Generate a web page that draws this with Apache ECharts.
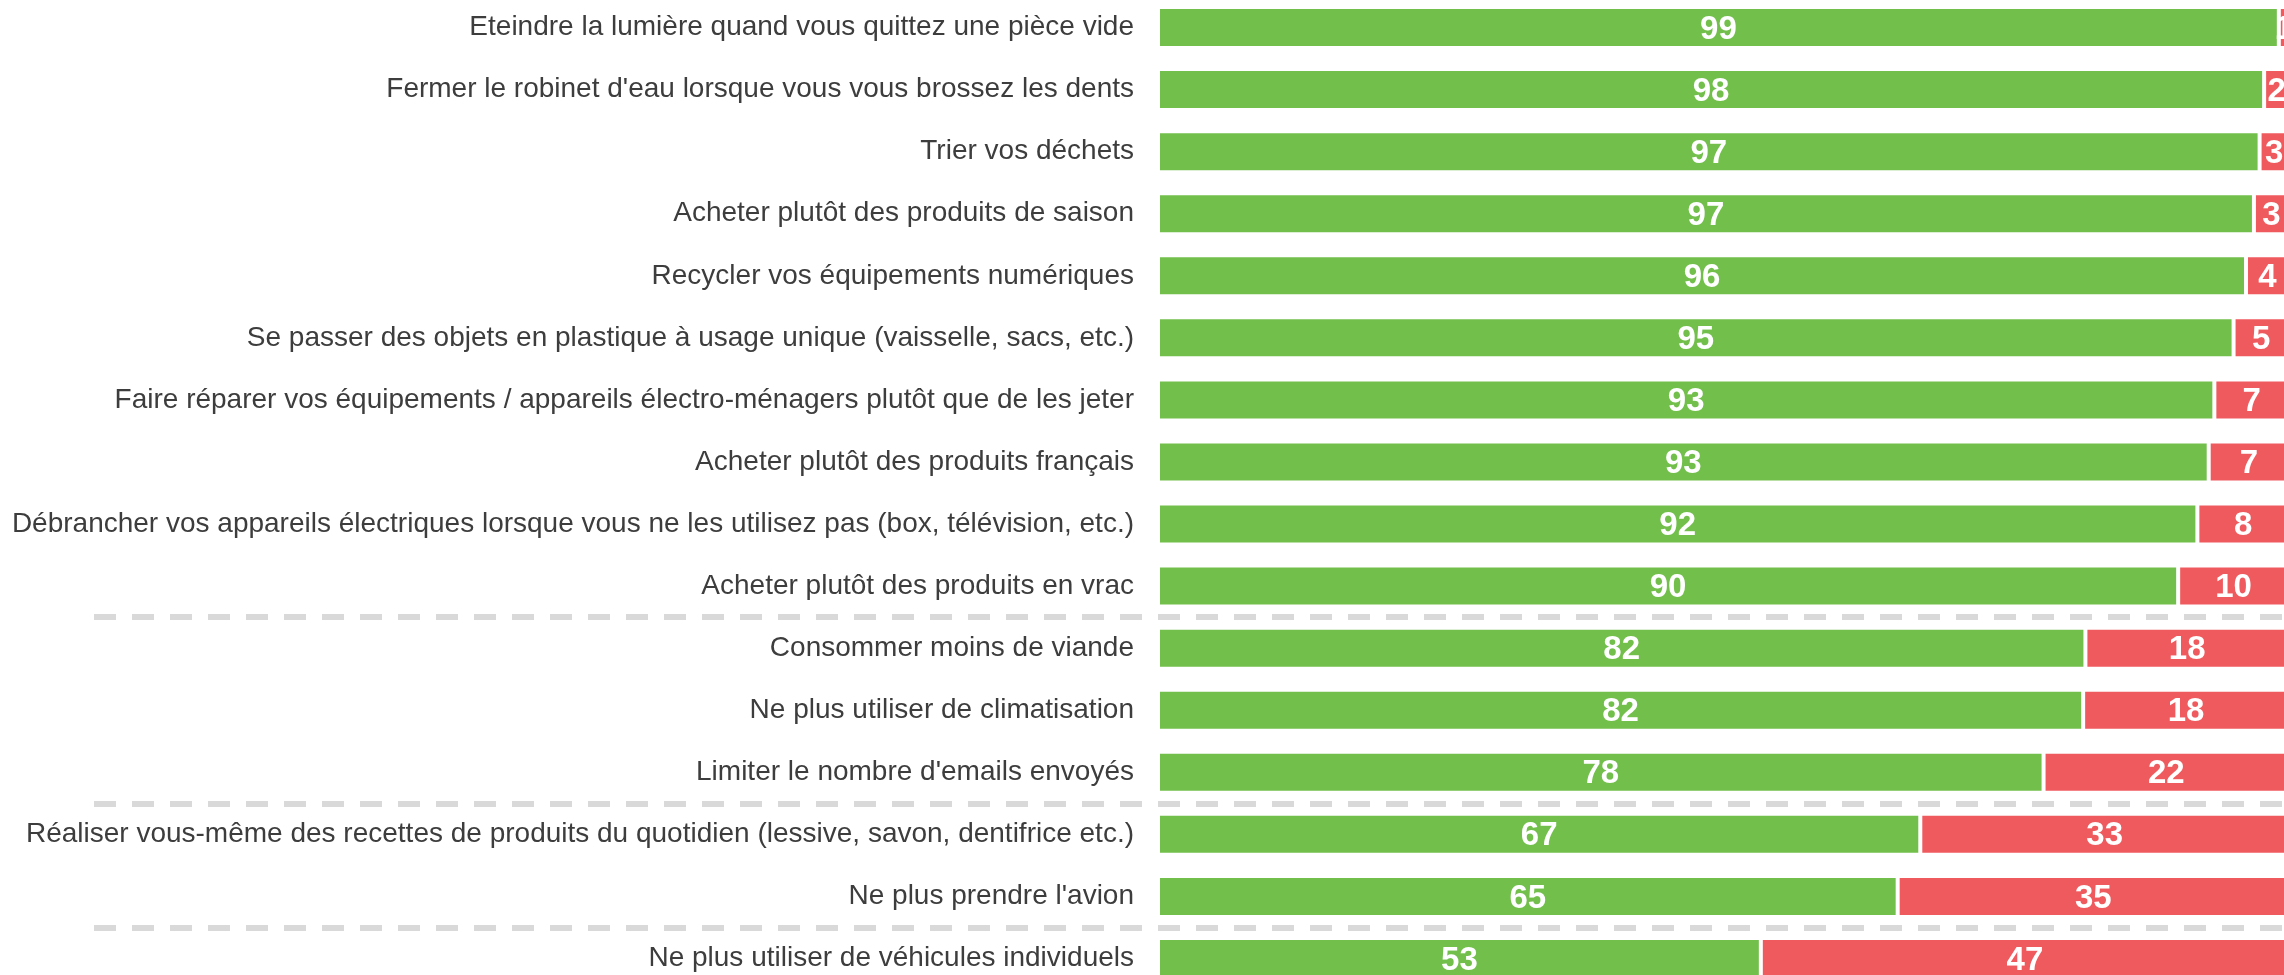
<!DOCTYPE html>
<html>
<head>
<meta charset="utf-8">
<script src="https://cdn.jsdelivr.net/npm/echarts@6/dist/echarts.min.js"></script>
<style>
  html, body { margin: 0; padding: 0; background: #fff; }
  #chart { width: 2284px; height: 975px; }
</style>
</head>
<body>
<div id="chart"></div>
<script>
// actions, top to bottom
var categories = [
  'Eteindre la lumière quand vous quittez une pièce vide',
  "Fermer le robinet d'eau lorsque vous vous brossez les dents",
  'Trier vos déchets',
  'Acheter plutôt des produits de saison',
  'Recycler vos équipements numériques',
  'Se passer des objets en plastique à usage unique (vaisselle, sacs, etc.)',
  'Faire réparer vos équipements / appareils électro-ménagers plutôt que de les jeter',
  'Acheter plutôt des produits français',
  'Débrancher vos appareils électriques lorsque vous ne les utilisez pas (box, télévision, etc.)',
  'Acheter plutôt des produits en vrac',
  'Consommer moins de viande',
  'Ne plus utiliser de climatisation',
  "Limiter le nombre d'emails envoyés",
  'Réaliser vous-même des recettes de produits du quotidien (lessive, savon, dentifrice etc.)',
  "Ne plus prendre l'avion",
  'Ne plus utiliser de véhicules individuels'
]
var yesValues = [99.1, 97.8, 97.4, 96.9, 96.2, 95.1, 93.4, 92.9, 91.9, 90.2, 82.0, 81.8, 78.3, 67.4, 65.4, 53.3]
var noValues = [0.9, 2.2, 2.6, 3.1, 3.8, 4.9, 6.6, 7.1, 8.1, 9.8, 18.0, 18.2, 21.7, 32.6, 34.6, 46.7]
// group separators, counted in rows from the top
var separators = [10, 13, 15]

var FONT = '"Liberation Sans", Arial, sans-serif'

var chart = echarts.init(document.getElementById('chart'))

var barLabel = {
  show: true,
  position: 'inside',
  offset: [0, 2],
  color: '#fff',
  fontFamily: FONT,
  fontWeight: 'bold',
  fontSize: 33,
  formatter: function (p) {
    return Math.round(p.value)
  }
}

chart.setOption({
  animation: false,
  grid: [
    { left: 1158, top: -3.5, width: 1131, height: 993, outerBoundsMode: 'none' },
    { left: 94, top: -3.5, width: 2195, height: 993, outerBoundsMode: 'none' }
  ],
  xAxis: [
    { type: 'value', gridIndex: 0, min: 0, max: 100, show: false },
    { type: 'value', gridIndex: 1, min: 0, max: 1, show: false }
  ],
  yAxis: [
    {
      type: 'category',
      gridIndex: 0,
      inverse: true,
      data: categories,
      axisLine: { show: false },
      axisTick: { show: false },
      splitLine: { show: false },
      axisLabel: {
        margin: 24,
        padding: [5, 0, 0, 0],
        color: '#3d3d3d',
        fontFamily: FONT,
        fontSize: 28
      }
    },
    { type: 'value', gridIndex: 1, min: 0, max: 16, inverse: true, show: false }
  ],
  series: [
    {
      name: 'oui',
      type: 'bar',
      stack: 'total',
      barWidth: 41,
      data: yesValues,
      itemStyle: { color: '#72bf4b', borderColor: '#fff', borderWidth: 2 },
      label: barLabel
    },
    {
      name: 'non',
      type: 'bar',
      stack: 'total',
      barWidth: 41,
      data: noValues,
      itemStyle: { color: '#ef5a5e', borderColor: '#fff', borderWidth: 2 },
      label: barLabel
    },
    {
      name: 'separators',
      type: 'scatter',
      xAxisIndex: 1,
      yAxisIndex: 1,
      symbolSize: 0,
      silent: true,
      data: [[0, 0]],
      markLine: {
        silent: true,
        symbol: 'none',
        label: { show: false },
        lineStyle: { color: '#d9d9d9', width: 6, type: [22, 16] },
        data: separators.map(function (s) { return { yAxis: s } })
      }
    }
  ]
})
</script>
</body>
</html>
